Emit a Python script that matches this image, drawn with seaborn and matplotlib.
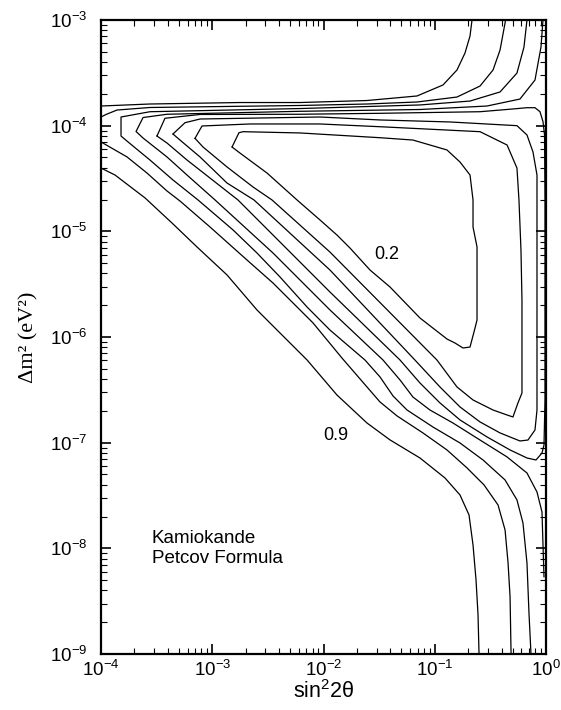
import matplotlib
matplotlib.use("Agg")
import numpy as np
import pandas as pd
import matplotlib.pyplot as plt
import seaborn as sns
from matplotlib.ticker import LogLocator, LogFormatterSciNotation, NullFormatter

# ---------------- data (log10 of sin^2 2theta, log10 of dm^2 [eV^2]) ----------------
# 0.9 contour: lower diagonal branch
c09a_lx = [-4.000, -3.874, -3.604, -3.362, -3.137, -2.867, -2.598, -2.391, -2.148, -1.879,
           -1.609, -1.402, -1.133, -0.908, -0.773, -0.692, -0.656, -0.629, -0.611, -0.602]
c09a_ly = [-4.401, -4.467, -4.684, -4.921, -5.148, -5.413, -5.744, -5.962, -6.217, -6.549,
           -6.814, -6.974, -7.145, -7.334, -7.495, -7.684, -7.968, -8.299, -8.630, -9.000]
# 0.9 contour: upper branch
c09b_lx = [-4.000, -3.560, -2.751, -2.211, -1.609, -1.159, -0.926, -0.800, -0.728, -0.683, -0.665]
c09b_ly = [-3.814, -3.795, -3.781, -3.781, -3.762, -3.719, -3.615, -3.473, -3.312, -3.151, -3.000]
# 0.8 contour: lower diagonal branch
c08a_lx = [-4.000, -3.766, -3.587, -3.407, -3.290, -3.020, -2.688, -2.454, -2.274, -2.094,
           -1.834, -1.609, -1.492, -1.339, -1.106, -0.890, -0.710, -0.557, -0.431, -0.368,
           -0.341, -0.323, -0.314]
c08a_ly = [-4.154, -4.296, -4.448, -4.618, -4.713, -4.959, -5.271, -5.489, -5.678, -5.867,
           -6.199, -6.473, -6.615, -6.747, -6.908, -7.069, -7.239, -7.400, -7.590, -7.826,
           -8.138, -8.460, -9.000]
# 0.8 contour: upper branch
c08b_lx = [-4.000, -3.955, -3.856, -3.560, -2.211, -1.609, -1.159, -0.800, -0.593, -0.476,
           -0.413, -0.368, -0.364]
c08b_ly = [-3.918, -3.894, -3.852, -3.828, -3.809, -3.795, -3.776, -3.729, -3.625, -3.473,
           -3.284, -3.028, -3.000]
# 0.7 contour
c07_lx = [-0.171, -0.198, -0.261, -0.413, -0.683, -1.133, -2.211, -3.560, -3.820, -3.820,
          -3.757, -3.560, -3.353, -3.128, -2.813, -2.598, -2.391, -2.148, -1.942, -1.627,
          -1.492, -1.375, -1.249, -1.016, -0.773, -0.566, -0.368, -0.261, -0.207, -0.171,
          -0.153, -0.135]
c07_ly = [-3.000, -3.256, -3.502, -3.681, -3.767, -3.804, -3.838, -3.868, -3.918, -4.098,
          -4.154, -4.325, -4.514, -4.703, -4.987, -5.205, -5.432, -5.716, -5.934, -6.218,
          -6.378, -6.558, -6.691, -6.852, -7.003, -7.164, -7.353, -7.542, -7.760, -8.139,
          -8.612, -9.000]
# 0.6 contour
c06_lx = [-0.027, -0.045, -0.099, -0.234, -0.530, -1.133, -2.211, -3.407, -3.622, -3.685,
          -3.622, -3.407, -3.227, -2.975, -2.454, -1.942, -1.465, -1.312, -1.196, -1.043,
          -0.836, -0.593, -0.350, -0.171, -0.081, -0.036, -0.027, -0.018]
c06_ly = [-3.000, -3.256, -3.568, -3.748, -3.814, -3.847, -3.864, -3.892, -3.923, -4.055,
          -4.117, -4.296, -4.467, -4.703, -5.205, -5.744, -6.218, -6.407, -6.568, -6.691,
          -6.814, -6.975, -7.135, -7.287, -7.467, -7.656, -7.968, -8.271]
# 0.5 contour (closed)
c05_lx = [-3.497, -3.425, -3.110, -2.211, -1.492, -0.593, -0.297, -0.171, -0.099, -0.054,
          -0.027, -0.013, -0.009, -0.009, -0.018, -0.036, -0.090, -0.171, -0.323, -0.530,
          -0.773, -0.953, -1.133, -1.312, -1.942, -2.769, -3.227, -3.407, -3.497]
c05_ly = [-4.098, -3.930, -3.894, -3.892, -3.883, -3.868, -3.842, -3.830, -3.830, -3.868,
          -3.962, -4.088, -4.703, -6.596, -7.022, -7.098, -7.164, -7.145, -7.069, -6.946,
          -6.785, -6.624, -6.435, -6.218, -5.574, -4.703, -4.325, -4.164, -4.098]
# 0.4 contour (closed)
c04_lx = [-3.353, -3.245, -3.110, -2.031, -1.492, -0.863, -0.261, -0.171, -0.117, -0.081,
          -0.081, -0.099, -0.162, -0.234, -0.413, -0.593, -0.773, -0.953, -1.178, -1.942,
          -2.625, -2.867, -3.110, -3.290, -3.353]
c04_ly = [-4.079, -3.972, -3.937, -3.918, -3.946, -3.965, -4.000, -4.088, -4.249, -4.467,
          -6.691, -6.880, -6.975, -6.984, -6.908, -6.804, -6.662, -6.473, -6.218, -5.366,
          -4.703, -4.543, -4.296, -4.136, -4.079]
# 0.3 contour (closed)
c03_lx = [-3.155, -3.092, -2.661, -2.031, -1.492, -0.593, -0.350, -0.261, -0.243, -0.225,
          -0.216, -0.216, -0.252, -0.297, -0.350, -0.476, -0.656, -0.800, -0.980, -1.942,
          -2.463, -2.634, -2.867, -3.083, -3.155]
c03_ly = [-4.120, -4.003, -3.984, -3.984, -4.010, -4.057, -4.183, -4.401, -4.703, -5.177,
          -5.650, -6.530, -6.624, -6.757, -6.738, -6.691, -6.596, -6.473, -6.218, -5.196,
          -4.703, -4.580, -4.391, -4.202, -4.120]
# 0.2 contour (closed)
c02_lx = [-2.822, -2.760, -2.724, -2.211, -1.492, -1.196, -0.890, -0.773, -0.683, -0.656,
          -0.656, -0.620, -0.620, -0.638, -0.683, -0.746, -0.818, -0.890, -1.133, -1.402,
          -1.582, -1.762, -1.879, -2.031, -2.238, -2.508, -2.751, -2.822]
c02_ly = [-4.202, -4.067, -4.057, -4.069, -4.114, -4.136, -4.230, -4.344, -4.467, -4.703,
          -4.959, -5.148, -5.839, -5.915, -6.095, -6.104, -6.057, -6.019, -5.820, -5.527,
          -5.366, -5.158, -5.035, -4.893, -4.703, -4.448, -4.259, -4.202]

label_text = ["0.2", "0.9"]
label_x = [0.0372, 0.0130]
label_y = [6.1e-6, 1.18e-7]

x_ticks = [1e-4, 1e-3, 1e-2, 1e-1, 1e0]
y_ticks = [1e-9, 1e-8, 1e-7, 1e-6, 1e-5, 1e-4, 1e-3]

# ---------------- build table ----------------
segments = [("0.9a", c09a_lx, c09a_ly), ("0.9b", c09b_lx, c09b_ly),
            ("0.8a", c08a_lx, c08a_ly), ("0.8b", c08b_lx, c08b_ly),
            ("0.7", c07_lx, c07_ly), ("0.6", c06_lx, c06_ly),
            ("0.5", c05_lx, c05_ly), ("0.4", c04_lx, c04_ly),
            ("0.3", c03_lx, c03_ly), ("0.2", c02_lx, c02_ly)]
rows = []
for name, lx, ly in segments:
    for i, (a, b) in enumerate(zip(lx, ly)):
        rows.append({"seg": name, "order": i, "x": 10.0 ** a, "y": 10.0 ** b})
df = pd.DataFrame(rows)

# ---------------- style ----------------
sns.set_style("ticks")
plt.rcParams['font.family'] = ['Liberation Sans', 'DejaVu Sans']
plt.rcParams['mathtext.fontset'] = 'custom'
plt.rcParams['mathtext.rm'] = 'Liberation Sans'
plt.rcParams['mathtext.it'] = 'Liberation Sans:italic'
plt.rcParams['mathtext.bf'] = 'Liberation Sans:bold'
plt.rcParams['axes.unicode_minus'] = False
for k in ['text.color', 'axes.labelcolor', 'xtick.color', 'ytick.color', 'axes.edgecolor']:
    plt.rcParams[k] = 'black'

fig = plt.figure(figsize=(5.61, 7.10), dpi=100)
ax = fig.add_axes([101 / 561, 56 / 710, 445 / 561, 634 / 710])
ax.set_xscale('log')
ax.set_yscale('log')

sns.lineplot(data=df, x="x", y="y", units="seg", estimator=None, sort=False,
             color="black", linewidth=0.9, ax=ax, legend=False)

ax.set_xlim(1e-4, 1e0)
ax.set_ylim(1e-9, 1e-3)
ax.set_xticks(x_ticks)
ax.set_yticks(y_ticks)
ax.xaxis.set_major_formatter(LogFormatterSciNotation())
ax.yaxis.set_major_formatter(LogFormatterSciNotation())
ax.xaxis.set_minor_locator(LogLocator(base=10, subs=np.arange(2, 10), numticks=20))
ax.yaxis.set_minor_locator(LogLocator(base=10, subs=np.arange(2, 10), numticks=20))
ax.xaxis.set_minor_formatter(NullFormatter())
ax.yaxis.set_minor_formatter(NullFormatter())

ax.tick_params(which='both', direction='in', top=True, right=True, colors='black')
ax.tick_params(which='major', length=7, width=1.2, labelsize=13.5)
ax.tick_params(axis='x', which='major', pad=4)
ax.tick_params(axis='y', which='major', pad=10)
ax.tick_params(which='minor', length=4, width=0.8)
for s in ax.spines.values():
    s.set_linewidth(1.6)
    s.set_color('black')

ax.set_xlabel(r"sin$^2$2θ", fontsize=15.5, labelpad=0, color='black')
ax.set_ylabel("Δm² (eV²)", fontsize=16, family=['Liberation Serif', 'DejaVu Serif'],
              labelpad=8, color='black')

for t, x, y in zip(label_text, label_x, label_y):
    ax.text(x, y, t, fontsize=13, ha='center', va='center', color='black')

ax.text(0.1146, 0.175, "Kamiokande", transform=ax.transAxes, fontsize=13.5,
        ha='left', va='baseline', color='black')
ax.text(0.1146, 0.1435, "Petcov Formula", transform=ax.transAxes, fontsize=13.5,
        ha='left', va='baseline', color='black')

fig.savefig("out.png", dpi=100)
